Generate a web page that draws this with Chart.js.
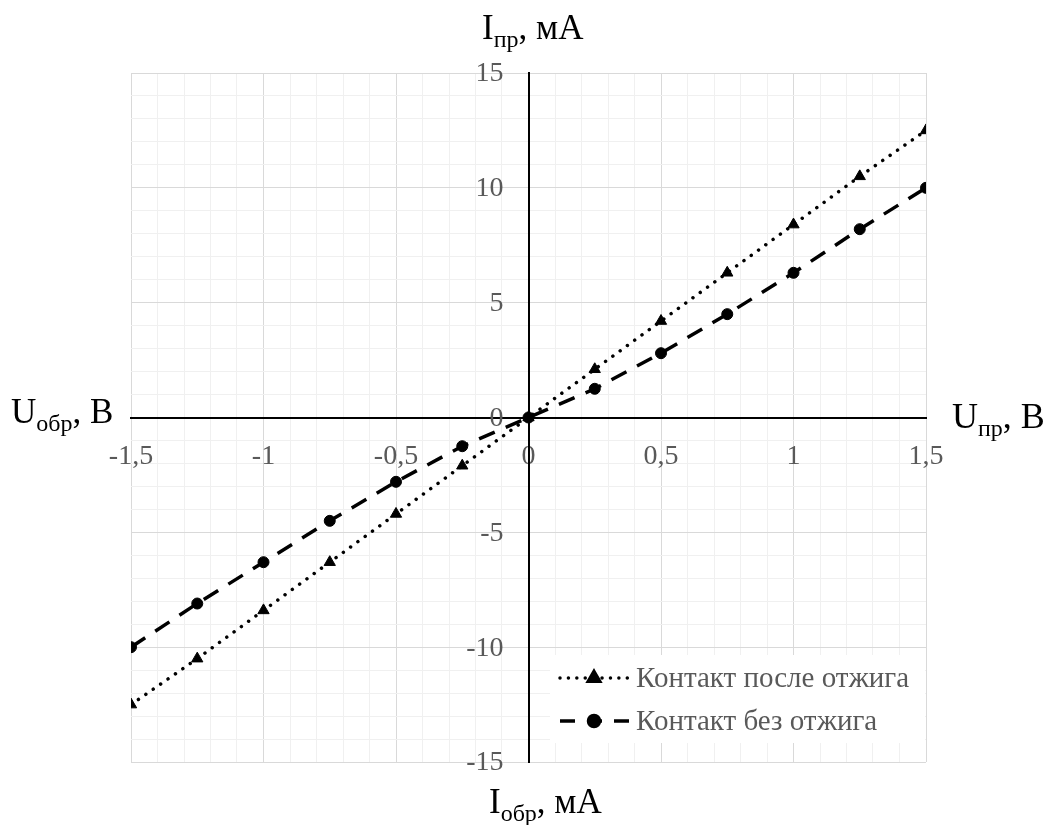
<!DOCTYPE html>
<html>
<head>
<meta charset="utf-8">
<script src="https://cdn.jsdelivr.net/npm/chart.js@4.4.0/dist/chart.umd.min.js"></script>
<style>
  html, body { margin: 0; padding: 0; background: #fff; }
  #wrap { width: 1049px; height: 825px; }
</style>
</head>
<body>
<div id="wrap"><canvas id="ivChart" width="1049" height="825"></canvas></div>
<script>
// Voltage points (V) and currents (mA)
const voltage = [-1.5, -1.25, -1, -0.75, -0.5, -0.25, 0, 0.25, 0.5, 0.75, 1, 1.25, 1.5];
const currentAnnealed = [-12.5, -10.5, -8.4, -6.3, -4.2, -2.1, 0, 2.1, 4.2, 6.3, 8.4, 10.5, 12.5];
const currentRaw = [-10, -8.1, -6.3, -4.5, -2.8, -1.25, 0, 1.25, 2.8, 4.5, 6.3, 8.2, 10];
const seriesNames = ['Контакт после отжига', 'Контакт без отжига'];
const xMajorTicks = [-1.5, -1, -0.5, 0, 0.5, 1, 1.5];
const yMajorTicks = [-15, -10, -5, 0, 5, 10, 15];

const SERIF = '"Liberation Serif", "Times New Roman", serif';
const TICK_GRAY = '#595959';

function isMajor(v, majors) {
    return majors.some(m => Math.abs(m - v) < 1e-6);
}

function fmt(v) {
    return String(Math.round(v * 100) / 100).replace('.', ',');
}

// axis captions with subscripts: [text, fontSize, baselineShift]
function drawParts(ctx, x, y, parts) {
    parts.forEach(([txt, size, dy]) => {
        ctx.font = size + 'px ' + SERIF;
        ctx.fillText(txt, x, y + dy);
        x += ctx.measureText(txt).width;
    });
}

// y tick labels sit left of the centred y axis with a gap
const yLabelsPlugin = {
    id: 'yLabels',
    afterDraw(chart) {
        const ctx = chart.ctx;
        const xs = chart.scales.x;
        const ys = chart.scales.y;
        const x0 = xs.getPixelForValue(0) - 25;
        ctx.save();
        ctx.fillStyle = TICK_GRAY;
        ctx.font = '28px ' + SERIF;
        ctx.textAlign = 'right';
        ctx.textBaseline = 'middle';
        ys.ticks.forEach(t => {
            if (isMajor(t.value, yMajorTicks)) {
                ctx.fillText(fmt(t.value), x0, ys.getPixelForValue(t.value) + 1);
            }
        });
        ctx.restore();
    }
};

const captionsPlugin = {
    id: 'captions',
    afterDraw(chart) {
        const ctx = chart.ctx;
        ctx.save();
        ctx.fillStyle = '#000';
        ctx.textAlign = 'left';
        ctx.textBaseline = 'alphabetic';
        drawParts(ctx, 482, 39, [['I', 35, 0], ['пр', 24, 8], [', мА', 35, 0]]);
        drawParts(ctx, 489, 813, [['I', 35, 0], ['обр', 24, 8], [', мА', 35, 0]]);
        drawParts(ctx, 11, 423, [['U', 35, 0], ['обр', 24, 8], [', В', 35, 0]]);
        drawParts(ctx, 952, 428, [['U', 36, 0], ['пр', 24, 8], [', В', 36, 0]]);
        ctx.restore();
    }
};

const legendPlugin = {
    id: 'boxLegend',
    afterDatasetsDraw(chart) {
        const ctx = chart.ctx;
        const area = chart.chartArea;
        ctx.save();
        ctx.fillStyle = '#fff';
        ctx.fillRect(550, 655, area.right - 551, 88);
        const rows = [678, 721];
        chart.data.datasets.forEach((ds, i) => {
            const y = rows[i];
            ctx.strokeStyle = ds.borderColor;
            ctx.lineWidth = ds.borderWidth;
            ctx.lineCap = ds.borderCapStyle;
            ctx.setLineDash(ds.legendDash);
            ctx.beginPath();
            ctx.moveTo(560, y);
            ctx.lineTo(629, y);
            ctx.stroke();
            ctx.setLineDash([]);
            Chart.helpers.drawPoint(ctx, {
                pointStyle: ds.pointStyle,
                radius: ds.pointRadius,
                borderWidth: 1,
                rotation: 0
            }, 594, y);
            ctx.fillStyle = '#000';
            ctx.fill();
            ctx.fillStyle = TICK_GRAY;
            ctx.font = '29px ' + SERIF;
            ctx.textAlign = 'left';
            ctx.textBaseline = 'middle';
            ctx.fillText(ds.label, 636, y + 1);
        });
        ctx.restore();
    }
};

function gridColor(majors) {
    return c => isMajor(c.tick.value, majors) ? '#d9d9d9' : '#f0f0f0';
}

new Chart(document.getElementById('ivChart'), {
    type: 'scatter',
    data: {
        datasets: [
            {
                label: seriesNames[0],
                data: voltage.map((v, i) => ({ x: v, y: currentAnnealed[i] })),
                showLine: true,
                borderColor: '#000',
                backgroundColor: '#000',
                borderWidth: 3.5,
                borderDash: [0.01, 9],
                legendDash: [0.01, 8.4],
                borderCapStyle: 'round',
                pointStyle: 'triangle',
                pointRadius: 6.5,
                pointBorderWidth: 1
            },
            {
                label: seriesNames[1],
                data: voltage.map((v, i) => ({ x: v, y: currentRaw[i] })),
                showLine: true,
                borderColor: '#000',
                backgroundColor: '#000',
                borderWidth: 3.5,
                borderDash: [17, 12],
                legendDash: [15, 12],
                borderCapStyle: 'butt',
                pointStyle: 'circle',
                pointRadius: 5.5,
                pointBorderWidth: 1
            }
        ]
    },
    options: {
        responsive: false,
        animation: false,
        layout: { padding: { left: 131, right: 123, top: 73, bottom: 63 } },
        plugins: {
            legend: { display: false },
            tooltip: { enabled: false }
        },
        scales: {
            x: {
                type: 'linear',
                min: -1.5,
                max: 1.5,
                position: { y: 0 },
                grid: { color: gridColor(xMajorTicks), lineWidth: 1, drawTicks: false },
                border: { display: true, color: '#000', width: 2 },
                ticks: {
                    stepSize: 0.1,
                    autoSkip: false,
                    maxRotation: 0,
                    padding: 22,
                    color: TICK_GRAY,
                    font: { family: SERIF, size: 28 },
                    callback: v => isMajor(v, xMajorTicks) ? fmt(v) : ''
                }
            },
            y: {
                type: 'linear',
                min: -15,
                max: 15,
                position: { x: 0 },
                grid: { color: gridColor(yMajorTicks), lineWidth: 1, drawTicks: false },
                border: { display: true, color: '#000', width: 2 },
                ticks: {
                    display: false,
                    stepSize: 1,
                    autoSkip: false,
                    callback: v => isMajor(v, yMajorTicks) ? fmt(v) : ''
                }
            }
        }
    },
    plugins: [legendPlugin, yLabelsPlugin, captionsPlugin]
});
</script>
</body>
</html>
